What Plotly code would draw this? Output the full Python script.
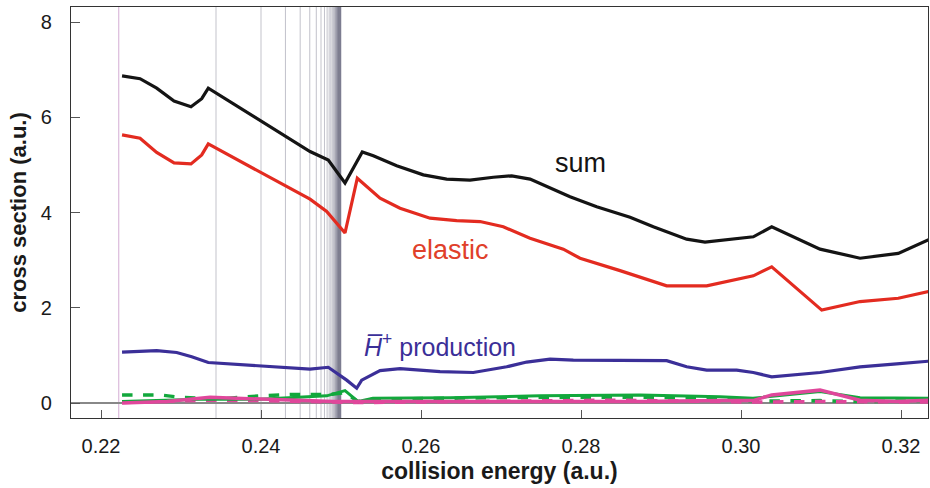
import plotly.graph_objects as go

# ---------------- data ----------------
sum_x = [0.22263, 0.22488, 0.22696, 0.22913, 0.23125, 0.23259, 0.23341, 0.24613, 0.24841, 0.25050,
         0.25266, 0.25404, 0.25696, 0.26029, 0.26321, 0.26613, 0.26904, 0.27134, 0.27363, 0.27571,
         0.27863, 0.28196, 0.28613, 0.28904, 0.29321, 0.29550, 0.30154, 0.30384, 0.30988, 0.31488,
         0.31966, 0.32363]
sum_y = [6.87, 6.81, 6.61, 6.34, 6.22, 6.39, 6.61, 5.28, 5.10, 4.62,
         5.27, 5.19, 4.98, 4.79, 4.70, 4.68, 4.74, 4.77, 4.70, 4.54,
         4.33, 4.12, 3.90, 3.70, 3.44, 3.38, 3.49, 3.70, 3.23, 3.04,
         3.14, 3.44]

elastic_x = [0.22263, 0.22488, 0.22696, 0.22913, 0.23125, 0.23259, 0.23341, 0.24613, 0.24821, 0.25050,
             0.25204, 0.25488, 0.25738, 0.26113, 0.26446, 0.26738, 0.27029, 0.27363, 0.27779, 0.27988,
             0.28488, 0.29071, 0.29571, 0.30154, 0.30384, 0.31009, 0.31488, 0.31966, 0.32363]
elastic_y = [5.63, 5.56, 5.26, 5.04, 5.02, 5.21, 5.44, 4.28, 4.02, 3.57,
             4.72, 4.30, 4.09, 3.88, 3.83, 3.81, 3.70, 3.46, 3.23, 3.04,
             2.78, 2.46, 2.46, 2.67, 2.86, 1.95, 2.13, 2.20, 2.35]

hbar_x = [0.22263, 0.22696, 0.22946, 0.23134, 0.23341, 0.23988, 0.24613, 0.24841, 0.25071, 0.25196,
          0.25259, 0.25488, 0.25738, 0.26238, 0.26654, 0.27071, 0.27321, 0.27613, 0.27904, 0.29071,
          0.29321, 0.29571, 0.29946, 0.30154, 0.30384, 0.30988, 0.31488, 0.31946, 0.32363]
hbar_y = [1.07, 1.10, 1.06, 0.97, 0.85, 0.78, 0.71, 0.75, 0.48, 0.31,
          0.48, 0.68, 0.72, 0.66, 0.64, 0.76, 0.86, 0.92, 0.90, 0.89,
          0.76, 0.69, 0.69, 0.64, 0.55, 0.64, 0.76, 0.82, 0.88]

green_x = [0.22263, 0.23238, 0.23988, 0.24821, 0.25050, 0.25216, 0.25400, 0.26363, 0.27488, 0.28738,
           0.29738, 0.30150, 0.30988, 0.31488, 0.32363]
green_y = [0.03, 0.08, 0.08, 0.15, 0.26, 0.03, 0.10, 0.11, 0.15, 0.17,
           0.13, 0.10, 0.24, 0.11, 0.10]

green_d_x = [0.22263, 0.22738, 0.22988, 0.23446, 0.23988, 0.24400, 0.24863, 0.25050, 0.25213, 0.25400,
             0.26363, 0.27488, 0.28738, 0.29738, 0.30150, 0.30988, 0.31488, 0.32363]
green_d_y = [0.17, 0.17, 0.12, 0.08, 0.15, 0.18, 0.18, 0.22, 0.03, 0.08,
             0.10, 0.12, 0.12, 0.10, 0.04, 0.05, 0.03, 0.05]

pink_x = [0.22263, 0.22821, 0.23363, 0.23988, 0.24900, 0.25213, 0.26363, 0.28738, 0.29738, 0.30150,
          0.30384, 0.30988, 0.31488, 0.31946, 0.32363]
pink_y = [0.00, 0.03, 0.12, 0.08, 0.03, 0.03, 0.03, 0.03, 0.05, 0.05,
          0.17, 0.27, 0.06, 0.03, 0.06]

pink_d_x = [0.22263, 0.23363, 0.23988, 0.25213, 0.28488, 0.29488, 0.30150, 0.30988, 0.32363]
pink_d_y = [0.01, 0.06, 0.05, 0.01, 0.06, 0.04, 0.02, 0.03, 0.02]

# threshold energies (Ps(n) excitation thresholds)
thresholds = [0.222222, 0.234375, 0.240000, 0.243056, 0.244898, 0.246094, 0.246914, 0.247500,
              0.247934, 0.248264, 0.248521, 0.248724, 0.248889, 0.249023, 0.249135, 0.249228,
              0.249307, 0.249375, 0.249433, 0.249483, 0.249527, 0.249566, 0.249600, 0.249630,
              0.249657, 0.249681, 0.249703, 0.249722, 0.249740, 0.249756, 0.249796, 0.249827,
              0.249852, 0.249872, 0.249889, 0.249900, 0.249920, 0.249940, 0.249960, 0.249980]

x_ticks = [0.22, 0.24, 0.26, 0.28, 0.30, 0.32]
x_tick_text = ["0.22", "0.24", "0.26", "0.28", "0.30", "0.32"]
y_ticks = [0, 2, 4, 6, 8]

# ---------------- figure ----------------
FONT = "Liberation Sans, Arial, Helvetica, sans-serif"
fig = go.Figure()

series = [
    (green_d_x, green_d_y, "#12a83c", "dash", 3.5),
    (pink_d_x, pink_d_y, "#e0479b", "dash", 3.5),
    (green_x, green_y, "#12a83c", "solid", 3),
    (pink_x, pink_y, "#e0479b", "solid", 3.5),
    (hbar_x, hbar_y, "#3b2f98", "solid", 3.2),
    (elastic_x, elastic_y, "#e32b20", "solid", 3.2),
    (sum_x, sum_y, "#141414", "solid", 3.2),
]
for xs, ys, col, dash, w in series:
    fig.add_trace(go.Scatter(x=xs, y=ys, mode="lines",
                             line=dict(color=col, width=w, dash=dash),
                             showlegend=False, hoverinfo="skip"))

shapes = []
for i, e in enumerate(thresholds):
    col = "rgba(200,150,200,0.8)" if i == 0 else "rgba(120,120,140,0.45)"
    shapes.append(dict(type="line", xref="x", yref="paper", x0=e, x1=e, y0=0, y1=1,
                       line=dict(color=col, width=1), layer="below"))

fig.update_layout(
    width=930, height=488,
    margin=dict(l=71, r=2, t=7, b=70),
    paper_bgcolor="white", plot_bgcolor="white",
    font=dict(family=FONT, size=20, color="#1a1a1a"),
    shapes=shapes,
    xaxis=dict(range=[0.21625, 0.323375], tickvals=x_ticks, ticktext=x_tick_text,
               ticks="inside", ticklen=8, tickcolor="#555", tickwidth=1,
               ticklabelstandoff=10,
               showline=True, linecolor="#333", linewidth=1.3, mirror=True,
               showgrid=False, zeroline=False,
               title=dict(text="<b>collision energy (a.u.)</b>", font=dict(size=23), standoff=6)),
    yaxis=dict(range=[-0.315, 8.315], tickvals=y_ticks,
               ticks="inside", ticklen=9, tickcolor="#555", tickwidth=1,
               ticklabelstandoff=14,
               showline=True, linecolor="#333", linewidth=1.3, mirror=True,
               showgrid=False, zeroline=True, zerolinecolor="#888", zerolinewidth=1.5,
               title=dict(text="<b>cross section (a.u.)</b>", font=dict(size=22), standoff=8)),
    annotations=[
        dict(x=0.27988, y=5.04, xref="x", yref="y", text="sum", showarrow=False,
             font=dict(size=27, color="#141414", family=FONT)),
        dict(x=0.26363, y=3.21, xref="x", yref="y", text="elastic", showarrow=False,
             font=dict(size=27, color="#e0402a", family=FONT)),
        dict(x=0.26238, y=1.22, xref="x", yref="y",
             text="<i>H\u0305</i><sup>+</sup> production", showarrow=False,
             font=dict(size=25, color="#3b2f98", family=FONT)),
    ],
)

fig.write_html("out.html")
